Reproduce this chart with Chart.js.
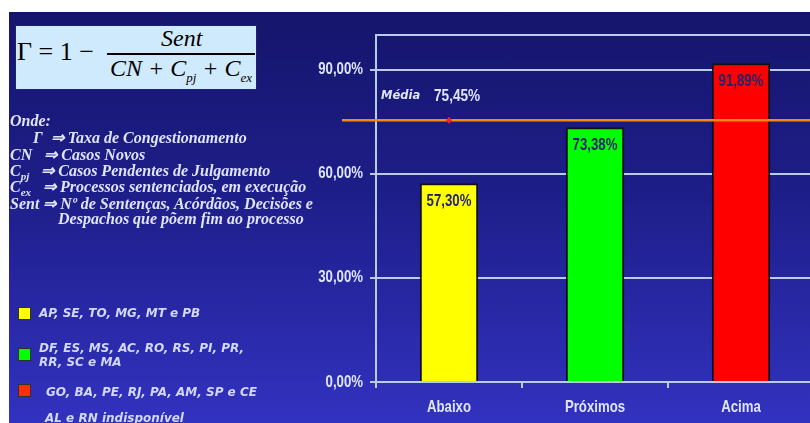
<!DOCTYPE html>
<html><head><meta charset="utf-8">
<script src="https://cdn.jsdelivr.net/npm/chart.js@4/dist/chart.umd.min.js"></script>
<style>
html,body{margin:0;padding:0;width:810px;height:423px;overflow:hidden;background:#fff;}
#bg{position:absolute;left:9px;top:12px;width:801px;height:411px;background:linear-gradient(to bottom,#15156c 0%,#1e1e8a 45%,#3232c0 100%);}
#wrap{position:absolute;left:0;top:0;width:830px;height:423px;}
.t{position:absolute;white-space:nowrap;z-index:5;}
#box{position:absolute;left:15px;top:25px;width:240px;height:63px;background:#cfeafc;border:1px solid #1a2470;z-index:5;font-family:'Liberation Serif','Times New Roman',serif;color:#000;}
.left{font-family:'Liberation Serif','Times New Roman',serif;font-weight:bold;font-style:italic;font-size:16px;color:#dfe4ff;}
.leg{font-family:'DejaVu Sans',Verdana,sans-serif;font-weight:bold;font-style:italic;font-size:12px;color:#d2d8ff;line-height:14px;}
.sq{position:absolute;width:11px;height:11px;border:1px solid #303030;z-index:5;}
</style></head>
<body>
<div id="bg"></div>
<div id="box">
  <span class="t" style="left:1px;top:11px;font-size:26px;">Γ = 1 −</span>
  <span class="t" style="left:145px;top:-1px;font-size:24px;font-style:italic;">Sent</span>
  <div style="position:absolute;left:91px;top:27px;width:148px;height:1.5px;background:#000;"></div>
  <span class="t" style="left:94px;top:29px;font-size:24px;font-style:italic;">CN + C<sub style="font-size:13px;">pj</sub> + C<sub style="font-size:13px;">ex</sub></span>
</div>
<div class="t left" style="left:10px;top:112px;">Onde:</div>
<div class="t left" style="left:33px;top:128px;">Γ&nbsp; ⇒ Taxa de Congestionamento</div>
<div class="t left" style="left:10px;top:145px;">CN&nbsp;&nbsp; ⇒ Casos Novos</div>
<div class="t left" style="left:10px;top:161px;">C<sub style="font-size:11px;">pj</sub>&nbsp;&nbsp; ⇒ Casos Pendentes de Julgamento</div>
<div class="t left" style="left:10px;top:177px;">C<sub style="font-size:11px;">ex</sub>&nbsp;&nbsp; ⇒ Processos sentenciados, em execução</div>
<div class="t left" style="left:10px;top:194px;">Sent ⇒ Nº de Sentenças, Acórdãos, Decisões e</div>
<div class="t left" style="left:58px;top:210px;">Despachos que põem fim ao processo</div>
<div id="legend"></div>
<div id="wrap"><canvas id="c"></canvas></div>
<script>
const categories = ['Abaixo', 'Próximos', 'Acima'];
const values = [57.30, 73.38, 91.89];
const barColors = ['#ffff00', '#00ff00', '#ff0000'];
const legendColors = ['#ffff00', '#00ff00', '#ff3000'];
const legendTexts = [['AP, SE, TO, MG, MT e PB'], ['DF, ES, MS, AC, RO, RS, PI, PR,', 'RR, SC e MA'], ['GO, BA, PE, RJ, PA, AM, SP e CE']];
const noteText = 'AL e RN indisponível';
const mean = 75.45;
const meanLabel = 'Média';
const yTicks = [0, 30, 60, 90];

const fmt = v => v.toFixed(2).replace('.', ',') + '%';

// legend (HTML)
const legTops = [306, 341, 385];
const sqTops = [307, 348, 384];
const legEl = document.getElementById('legend');
legendTexts.forEach((lines, i) => {
  const sq = document.createElement('div');
  sq.className = 'sq';
  sq.style.left = '18px';
  sq.style.top = sqTops[i] + 'px';
  sq.style.background = legendColors[i];
  legEl.appendChild(sq);
  const t = document.createElement('div');
  t.className = 't leg';
  t.style.left = (i === 2 ? 46 : 39) + 'px';
  t.style.top = legTops[i] + 'px';
  t.innerHTML = lines.join('<br>');
  legEl.appendChild(t);
});
const note = document.createElement('div');
note.className = 't leg';
note.style.left = '45px';
note.style.top = '411px';
note.textContent = noteText;
legEl.appendChild(note);

const SANS = "'Liberation Sans',Arial,sans-serif";
const AXIS_TEXT = '#dfe6ff';

function narrowText(ctx, text, x, y, size, align) {
  ctx.save();
  ctx.font = 'bold ' + size + 'px ' + SANS;
  ctx.textAlign = align;
  ctx.textBaseline = 'middle';
  ctx.translate(x, y);
  ctx.scale(0.8, 1);
  ctx.fillText(text, 0, 0);
  ctx.restore();
}

const overlay = {
  id: 'overlay',
  afterDraw(chart) {
    const ctx = chart.ctx;
    const y = chart.scales.y, x = chart.scales.x;
    ctx.save();
    ctx.fillStyle = AXIS_TEXT;
    y.ticks.forEach(t => {
      if (t.value === 100) return;
      narrowText(ctx, fmt(t.value), y.right - 13, y.getPixelForValue(t.value), 16.5, 'right');
    });
    x.ticks.forEach((t, i) => {
      narrowText(ctx, categories[i], x.getPixelForTick(i), x.top + 25, 16.5, 'center');
    });
    ctx.restore();
  },
  afterDatasetsDraw(chart) {
    const ctx = chart.ctx;
    const y = chart.scales.y, x = chart.scales.x;
    const meta = chart.getDatasetMeta(0);
    ctx.save();
    // value labels
    ctx.fillStyle = '#23236e';
    meta.data.forEach((bar, i) => {
      narrowText(ctx, fmt(values[i]), bar.x, bar.y + 18, 16.5, 'center');
    });
    // mean line
    const my = y.getPixelForValue(mean);
    ctx.strokeStyle = '#f08a10';
    ctx.lineWidth = 2.5;
    ctx.beginPath();
    ctx.moveTo(342, my);
    ctx.lineTo(chart.width, my);
    ctx.stroke();
    // marker
    const px = x.getPixelForValue(0);
    ctx.fillStyle = '#ff2020';
    ctx.beginPath();
    ctx.moveTo(px, my - 3.5); ctx.lineTo(px + 3, my); ctx.lineTo(px, my + 3.5); ctx.lineTo(px - 3, my);
    ctx.closePath(); ctx.fill();
    // mean label
    ctx.fillStyle = AXIS_TEXT;
    ctx.textAlign = 'left';
    ctx.textBaseline = 'middle';
    ctx.font = "italic bold 11.5px 'DejaVu Sans',Verdana,sans-serif";
    ctx.fillText(meanLabel, 381, my - 24);
    narrowText(ctx, fmt(mean), 434, my - 24, 17, 'left');
    ctx.restore();
  }
};

new Chart(document.getElementById('c'), {
  type: 'bar',
  data: {
    labels: categories,
    datasets: [{
      data: values,
      backgroundColor: barColors,
      borderColor: '#111111',
      borderWidth: 2,
      borderSkipped: 'bottom',
      barPercentage: 0.4,
      categoryPercentage: 1.0
    }]
  },
  options: {
    responsive: true,
    maintainAspectRatio: false,
    animation: false,
    layout: { padding: { left: 0, top: 35, right: 16, bottom: 0 } },
    plugins: { legend: { display: false }, tooltip: { enabled: false } },
    scales: {
      x: {
        grid: { offset: true, drawOnChartArea: false, drawTicks: true, tickLength: 6, color: '#b8ccf0', lineWidth: 2 },
        border: { color: '#b8ccf0', width: 2 },
        ticks: { color: 'rgba(0,0,0,0)', font: { family: SANS, size: 13.5, weight: 'bold' }, padding: 10 },
        afterFit(s) { s.height = 41; }
      },
      y: {
        min: 0, max: 100,
        afterBuildTicks(s) { s.ticks = yTicks.concat([100]).map(v => ({ value: v })); },
        grid: {
          color: '#b8ccf0', lineWidth: 2, tickLength: 6,
          tickColor: c => (c.tick && c.tick.value === 100) ? 'rgba(0,0,0,0)' : '#b8ccf0'
        },
        border: { color: '#b8ccf0', width: 2 },
        ticks: {
          color: 'rgba(0,0,0,0)', font: { family: SANS, size: 13.5, weight: 'bold' }, padding: 7,
          callback: v => (v === 100 ? '' : fmt(v))
        },
        afterFit(s) { s.width = 376; }
      }
    }
  },
  plugins: [overlay]
});
</script>
</body></html>
